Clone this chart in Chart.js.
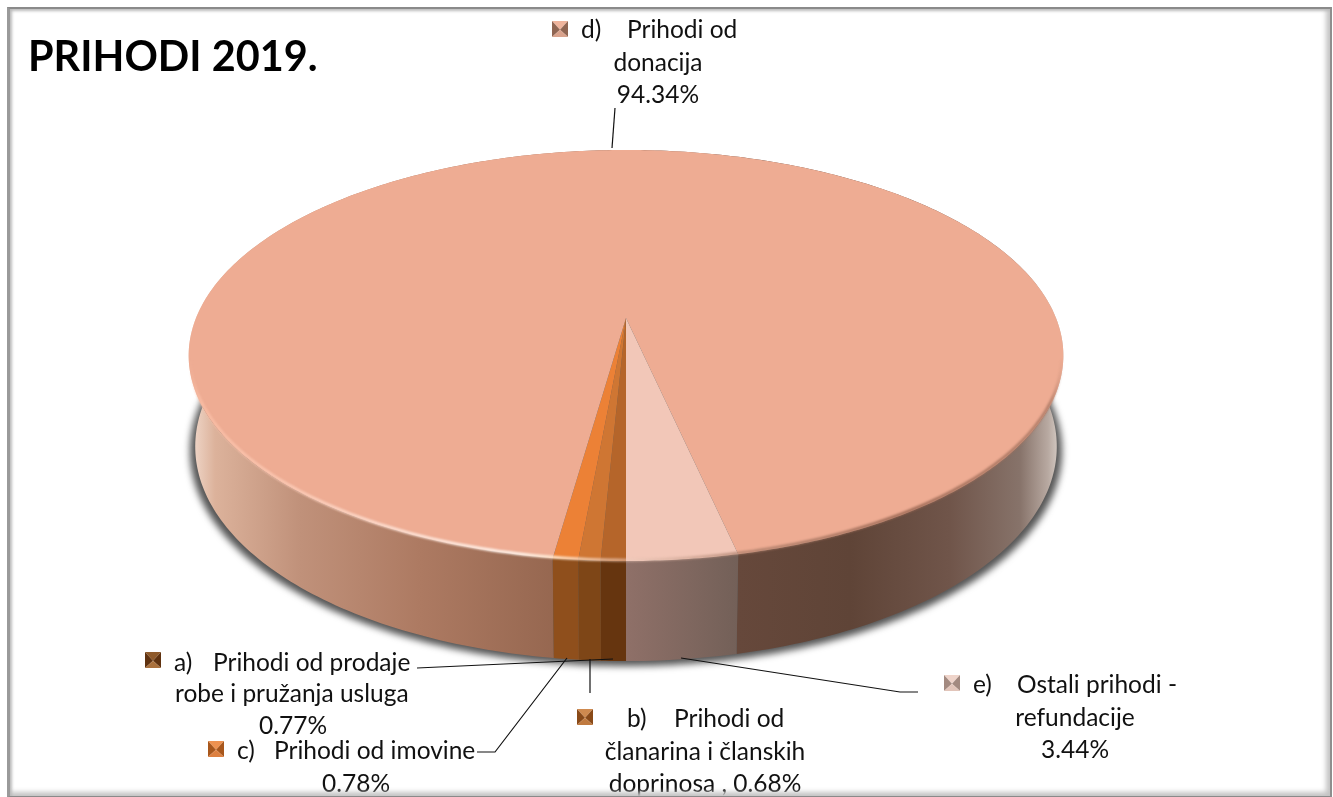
<!DOCTYPE html>
<html><head><meta charset="utf-8">
<script src="https://cdn.jsdelivr.net/npm/chart.js@4"></script>
<style>
html,body{margin:0;padding:0;background:#fff;width:1333px;height:797px;overflow:hidden}
#c{position:absolute;left:0;top:0}
#frame{position:absolute;left:7px;top:7px;width:1325px;height:790px;box-sizing:border-box;
border-top:2px solid #8a8a8a;border-left:3px solid #9a9a9a;border-right:2px solid #8e8e8e;border-bottom:1px solid #8a8a8a;
box-shadow:inset 3px 3px 3px -1px #bbb, inset -5px -5px 5px -1px #c4c4c4;pointer-events:none}
</style></head><body>
<canvas id="c" width="1333" height="797"></canvas><div id="frame"></div>
<script>
const titleText = 'PRIHODI 2019.';
const categories = ['a) Prihodi od prodaje robe i pružanja usluga','b) Prihodi od članarina i članskih doprinosa','c) Prihodi od imovine','d) Prihodi od donacija','e) Ostali prihodi - refundacije'];
const values = [0.77, 0.68, 0.78, 94.34, 3.44];
const topColors = ['#b5652a','#cf7633','#ec8136','#eeac93','#f2c7b8'];
const pct = values.map(v => v.toFixed(2) + '%');

// ---- styling / layout below ----
const P = {cx:626, cy:318, a:430, k:198.7, p:-0.1825};
function proj(u,v){const w=1+P.p*v;return [P.cx+P.a*u/w, P.cy+P.k*v/w];}
function ringPt(th,depth,sx){
  const u=Math.cos(th),v=Math.sin(th),q=proj(u,v);
  if(!depth) return q;
  return [P.cx+(q[0]-P.cx)*sx, q[1]+depth*(78+11*(v+1))/100];
}
const wallStops = [
 [[0,'#66350f'],[1,'#66350f']],
 [[0,'#7e4617'],[1,'#7e4617']],
 [[0,'#8f4f1c'],[1,'#8f4f1c']],
 [[193,'#efd6c8'],[215,'#dcb29b'],[300,'#c0917a'],[420,'#ad7a62'],[555,'#966750'],[738,'#66483b'],[850,'#5f4437'],[950,'#70554a'],[1020,'#87736a'],[1048,'#b8a9a1'],[1056,'#cdc2bb']],
 [[626,'#8f7068'],[738,'#736058']]
];
const markerCols = [
 ['#8f5a2b','#5f3210','#a9703c'],['#cf8a4f','#8a4a18','#c07a3f'],['#ee9250','#a8571c','#dd8040'],
 ['#efb49c','#8f6552','#d9a28c'],['#efd4ca','#a38a80','#e2c5ba']
];
const labelBlocks = [
 {m:[145,652],lines:[['a)',174,671,'left'],['Prihodi od prodaje',213,671,'left'],['robe i pružanja usluga',175,702,'left'],[pct[0],293,734,'center']]},
 {m:[577,709],lines:[['b)',627,727,'left'],['Prihodi od',674,727,'left'],['članarina i članskih',705,760,'center'],['doprinosa , '+pct[1],705,792,'center']]},
 {m:[208,741],lines:[['c)',237,759,'left'],['Prihodi od imovine',274,759,'left'],[pct[2],356,792,'center']]},
 {m:[552,21],lines:[['d)',581,38,'left'],['Prihodi od',627,38,'left'],['donacija',658,71,'center'],[pct[3],658,103,'center']]},
 {m:[944,675],lines:[['e)',973,693,'left'],['Ostali prihodi -',1017,693,'left'],['refundacije',1075,726,'center'],[pct[4],1075,758,'center']]}
];
const leaders = [
 [[417,668],[613,659]],
 [[590,659],[590,693]],
 [[477,752],[495,752],[567,658]],
 [[615,108],[612,148]],
 [[681,658],[900,692],[918,692]]
];
const FONT = '24.5px Lato, Carlito, sans-serif';

const proto = CanvasRenderingContext2D.prototype;
let geo = null;
const pie3d = {
  id:'pie3d',
  beforeDatasetsDraw(chart){
    const ctx=chart.ctx, arcs=chart.getDatasetMeta(0).data;
    geo={x:arcs[0].x,y:arcs[0].y,r:arcs[0].outerRadius};
    // shadow
    ctx.save();
    ctx.filter='blur(3.5px)';
    ctx.fillStyle='#555';
    ctx.beginPath();
    for(let i=0;i<=360;i++){const t=i*Math.PI/180;const q=ringPt(t,105,0.997);i?ctx.lineTo(q[0],q[1]):ctx.moveTo(q[0],q[1]);}
    ctx.closePath();ctx.fill();
    ctx.restore();
    // walls: widest first so narrow slices sit on top
    [3,4,0,1,2].forEach(i=>{
      const arc=arcs[i], s=arc.startAngle, e=arc.endAngle, st=wallStops[i];
      const lo=st[0][0], hi=st[st.length-1][0];
      const g=ctx.createLinearGradient(lo,0,Math.max(hi,lo+1),0);
      st.forEach(([p,c])=>g.addColorStop(hi>1?(p-lo)/(hi-lo):p,c));
      ctx.fillStyle=g;
      ctx.beginPath();
      const n=Math.max(6,Math.ceil((e-s)*60));
      for(let j=0;j<=n;j++){const t=s+(e-s)*j/n,q=ringPt(t,0);j?ctx.lineTo(q[0],q[1]):ctx.moveTo(q[0],q[1]);}
      for(let j=n;j>=0;j--){const t=s+(e-s)*j/n,q=ringPt(t,100,0.985);ctx.lineTo(q[0],q[1]);}
      ctx.closePath();ctx.fill();
    });
  },
  beforeDatasetDraw(chart){
    const ctx=chart.ctx;
    const map=(x,y)=>proj((x-geo.x)/geo.r,(y-geo.y)/geo.r);
    ctx.moveTo=function(x,y){const q=map(x,y);proto.moveTo.call(this,q[0],q[1]);};
    ctx.lineTo=function(x,y){const q=map(x,y);proto.lineTo.call(this,q[0],q[1]);};
    ctx.arc=function(x,y,r,a,b,ccw){
      if(ccw&&b>a)b-=2*Math.PI; if(!ccw&&b<a)b+=2*Math.PI;
      const n=Math.max(2,Math.ceil(Math.abs(b-a)*90));
      for(let j=0;j<=n;j++){const t=a+(b-a)*j/n,q=map(x+r*Math.cos(t),y+r*Math.sin(t));proto.lineTo.call(this,q[0],q[1]);}
    };
  },
  afterDatasetDraw(chart){
    const ctx=chart.ctx; delete ctx.moveTo; delete ctx.lineTo; delete ctx.arc;
  },
  afterDatasetsDraw(chart){
    const ctx=chart.ctx;
    // rim highlight along the front of the top face
    ctx.save();
    ctx.filter='blur(0.9px)';
    const g=ctx.createLinearGradient(189,0,1063,0);
    [[189,'rgba(250,190,165,0)'],[200,'rgba(250,190,165,.9)'],[300,'rgba(252,205,185,.95)'],[430,'rgba(255,235,225,.95)'],[520,'#fff6ee'],[555,'#ffe9d0'],[626,'rgba(240,205,190,.6)'],[740,'rgba(170,125,105,.8)'],[900,'rgba(150,100,80,.9)'],[1050,'rgba(170,120,100,.9)'],[1063,'rgba(170,120,100,0)']]
      .forEach(([p,c])=>g.addColorStop((p-189)/874,c));
    ctx.strokeStyle=g;ctx.lineWidth=2.8;ctx.beginPath();
    for(let i=0;i<=156;i++){const t=(12+i)*Math.PI/180,q=ringPt(t,0);const r=[P.cx+(q[0]-P.cx)*0.998,q[1]-1];i?ctx.lineTo(r[0],r[1]):ctx.moveTo(r[0],r[1]);}
    ctx.stroke();
    ctx.restore();
    // leaders
    ctx.save();
    ctx.strokeStyle='#111';ctx.lineWidth=1.2;
    leaders.forEach(l=>{ctx.beginPath();l.forEach((q,i)=>i?ctx.lineTo(q[0],q[1]):ctx.moveTo(q[0],q[1]));ctx.stroke();});
    // labels
    ctx.textBaseline='alphabetic';
    ctx.fillStyle='#111';ctx.font=FONT;
    labelBlocks.forEach((b,i)=>{
      const [mx,my]=b.m,s=16,c=markerCols[i];
      const tri=(pts,col)=>{ctx.fillStyle=col;ctx.beginPath();pts.forEach((q,j)=>j?ctx.lineTo(q[0],q[1]):ctx.moveTo(q[0],q[1]));ctx.closePath();ctx.fill();};
      const m=[mx+s/2,my+s*0.55];
      tri([[mx,my],[mx+s,my],m],c[0]);
      tri([[mx,my],[mx,my+s],m],c[1]);
      tri([[mx+s,my],[mx+s,my+s],m],c[1]);
      tri([[mx,my+s],[mx+s,my+s],m],c[2]);
      ctx.fillStyle='#111';
      b.lines.forEach(([t,x,y,al])=>{ctx.textAlign=al;ctx.fillText(t,x,y);});
    });
    ctx.textAlign='left';
    ctx.font='bold 41.4px Lato, Carlito, sans-serif';
    ctx.fillStyle='#000';
    ctx.fillText(titleText,28,71);
    ctx.restore();
  }
};
new Chart(document.getElementById('c'),{
  type:'pie',
  data:{labels:categories,datasets:[{data:values,backgroundColor:topColors,borderWidth:0,hoverOffset:0}]},
  options:{responsive:false,animation:false,rotation:180,
    plugins:{legend:{display:false},tooltip:{enabled:false},title:{display:false}},
    events:[]},
  plugins:[pie3d]
});
</script>
</body></html>
